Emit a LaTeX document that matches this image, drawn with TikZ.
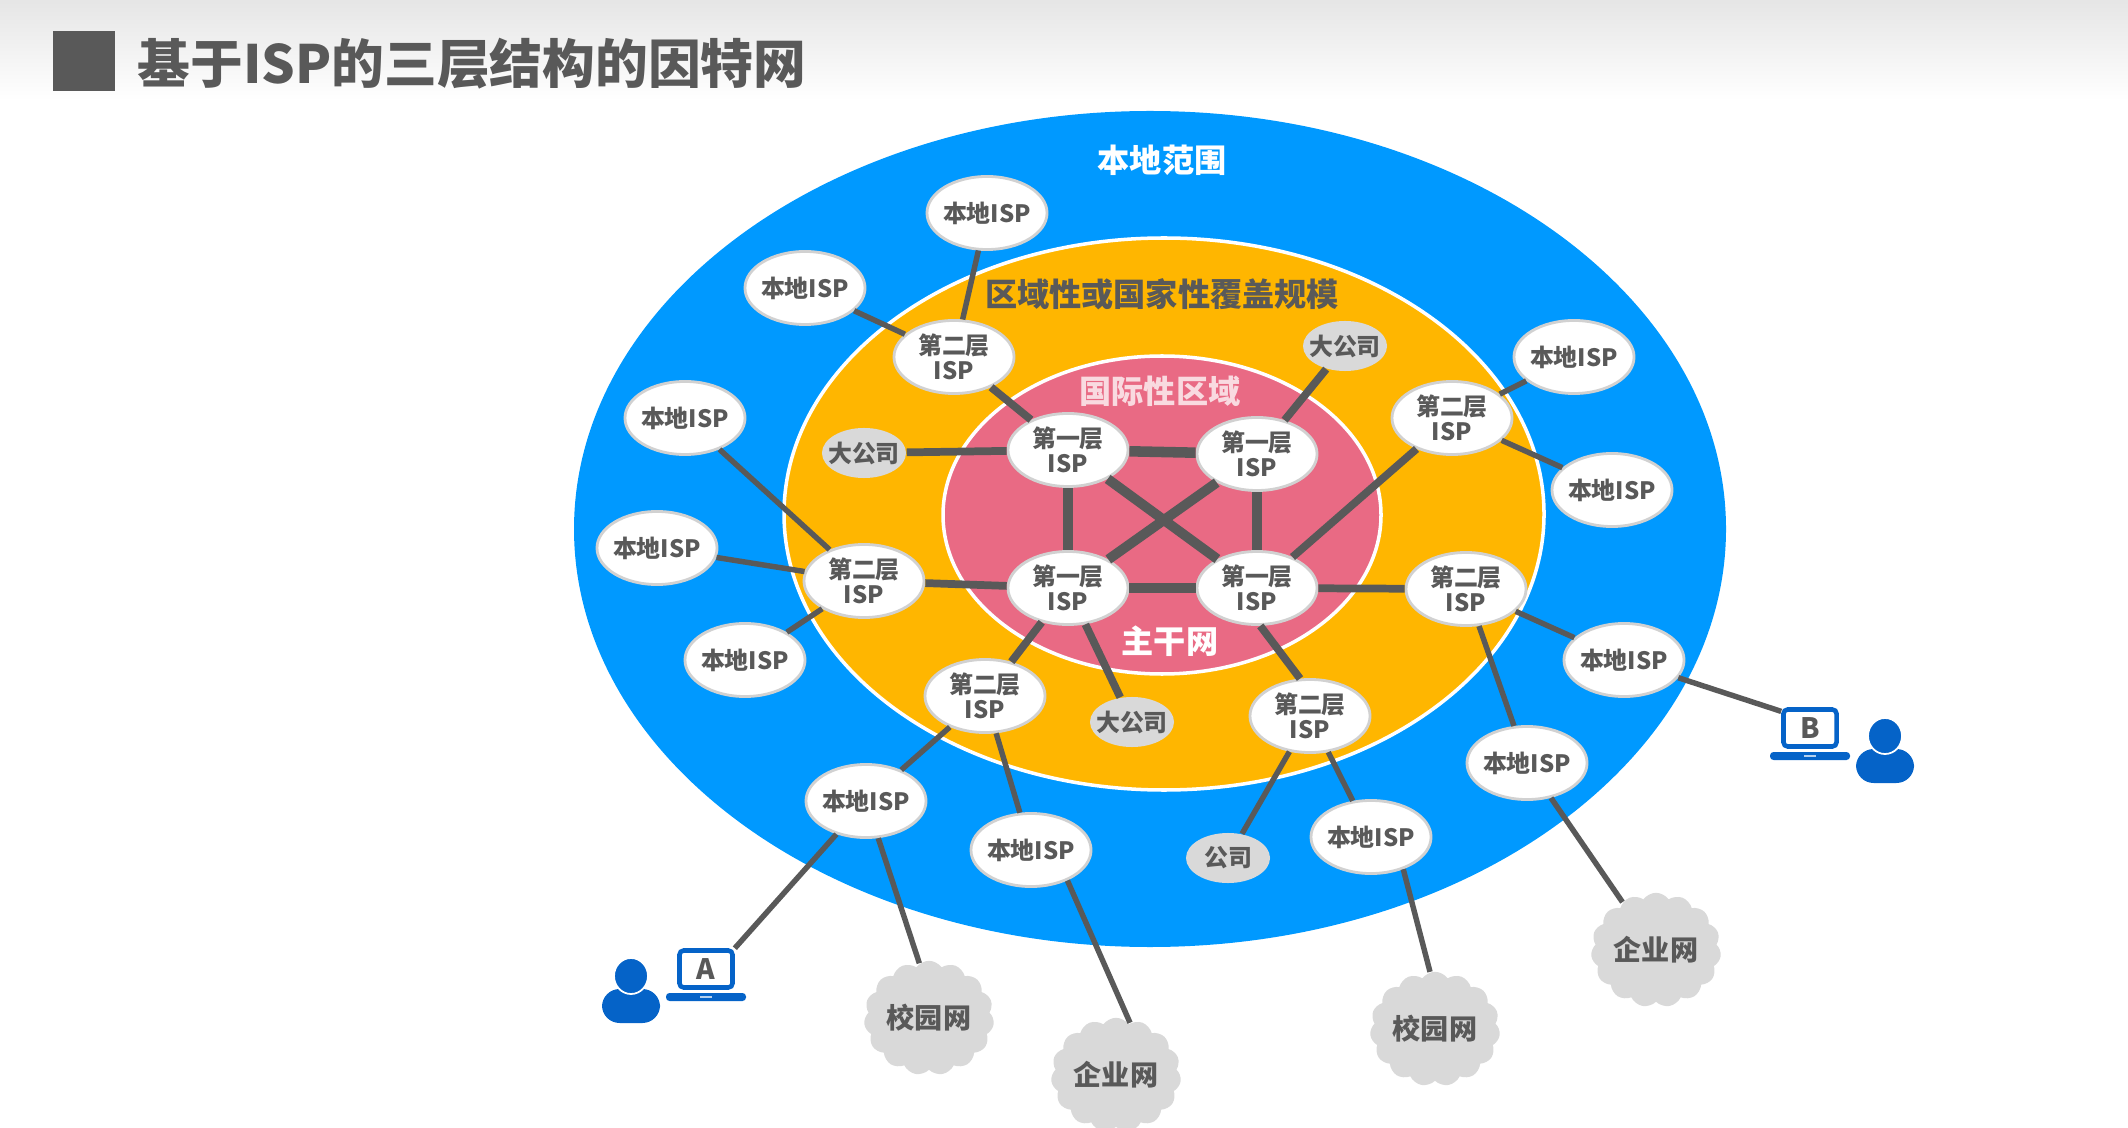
\documentclass[tikz,border=0pt]{standalone}
\usepackage{fontspec}
\setmainfont{Noto Sans CJK SC}
\usetikzlibrary{calc, shapes.geometric, shapes.symbols}
\definecolor{scopeBlue}{HTML}{0099FF}
\definecolor{scopeOrange}{HTML}{FFB600}
\definecolor{scopePink}{HTML}{E96A84}
\definecolor{inkGray}{HTML}{595959}
\definecolor{puffGray}{HTML}{D9D9D9}
\definecolor{userBlue}{HTML}{0563C8}
\tikzset{
    ispNode/.style={ellipse, draw=black!18, fill=white, line width=0.8pt, inner sep=0pt, inner xsep=-0.017cm, minimum width=1.2cm, minimum height=0.73cm, align=center, text=inkGray, font=\fontsize{6.8}{7.2}\selectfont\bfseries},
    firmNode/.style={ellipse, fill=puffGray, inner sep=0pt, inner xsep=-0.066cm, minimum width=0.84cm, minimum height=0.5cm, text=inkGray, font=\fontsize{6.8}{7.2}\selectfont\bfseries},
    cloudNode/.style={cloud, cloud puffs=15, cloud puff arc=110, aspect=1.15, fill=puffGray, inner sep=0pt, minimum width=1.3cm, minimum height=1.14cm, text=inkGray, font=\fontsize{8}{8.4}\selectfont\bfseries},
    screenNode/.style={rectangle, rounded corners=1.2pt, draw=userBlue, fill=white, line width=1.3pt, inner sep=0pt, minimum width=0.53cm, minimum height=0.37cm, text=inkGray, font=\fontsize{8}{8}\selectfont\bfseries},
    scopeLabel/.style={font=\fontsize{9.15}{10}\selectfont\bfseries},
    ispLine/.style={line width=1.55pt, draw=inkGray},
    coreLine/.style={line width=3pt, draw=inkGray},
    crossLine/.style={line width=2.8pt, draw=inkGray},
    trunkLine/.style={line width=2.2pt, draw=inkGray}
}
\begin{document}
\begin{tikzpicture}[x=0.01cm, y=-0.01cm]

    % --- Laptop and User Macros ---
    \def\drawLaptop#1{
        \fill[userBlue, rounded corners=1pt] ($(#1)+(-40,24)$) rectangle ($(#1)+(40,32)$);
        \fill[white!70!userBlue] ($(#1)+(-6,27)$) rectangle ($(#1)+(6,29)$);
    }
    \def\drawUser#1{
        \fill[userBlue, rounded corners=5pt] ($(#1)+(-29,47)$) -- ($(#1)+(-29,13)$) -- ($(#1)+(29,13)$) -- ($(#1)+(29,47)$) -- cycle;
        \fill[userBlue, draw=white, line width=0.5pt] (#1) ellipse (17 and 18);
    }

    % --- Page and Heading ---
    \useasboundingbox (0,0) rectangle (2128,1128);
    \shade[top color=black!10, bottom color=white] (0,0) rectangle (2128,100);
    \fill[inkGray] (53,31) rectangle (115,91);
    \node[anchor=west, inner sep=0pt, text=inkGray, font=\fontsize{15}{16}\selectfont\bfseries] (heading) at (137,64) {基于ISP的三层结构的因特网};

    % --- Scope Ellipses ---
    \fill[scopeBlue] (1150,529) ellipse (576 and 418);
    \draw[white, line width=1pt, fill=scopeOrange] (1164,514) ellipse (380 and 276);
    \draw[white, line width=1pt, fill=scopePink] (1162,515) ellipse (219 and 159);

    % --- Scope Labels ---
    \node[scopeLabel, text=white] (localScope) at (1162,160) {本地范围};
    \node[scopeLabel, text=inkGray] (regionScope) at (1162,294) {区域性或国家性覆盖规模};
    \node[scopeLabel, text=white!75!scopePink] (worldScope) at (1160,391) {国际性区域};
    \node[scopeLabel, text=white] (coreScope) at (1170,641) {主干网};

    % --- Tier 1 Nodes ---
    \node[ispNode] (A1) at (1068,450) {第一层\\ISP};
    \node[ispNode] (A2) at (1257,454) {第一层\\ISP};
    \node[ispNode] (A3) at (1068,588) {第一层\\ISP};
    \node[ispNode] (A4) at (1257,588) {第一层\\ISP};

    % --- Tier 2 Nodes ---
    \node[ispNode] (B1) at (954,357) {第二层\\ISP};
    \node[ispNode] (B2) at (1452,418) {第二层\\ISP};
    \node[ispNode] (B3) at (864,581) {第二层\\ISP};
    \node[ispNode] (B4) at (1466,589) {第二层\\ISP};
    \node[ispNode] (B5) at (985,696) {第二层\\ISP};
    \node[ispNode] (B6) at (1310,716) {第二层\\ISP};

    % --- Local ISP Nodes ---
    \node[ispNode] (L1) at (987,213) {本地ISP};
    \node[ispNode] (L2) at (805,288) {本地ISP};
    \node[ispNode] (L3) at (685,418) {本地ISP};
    \node[ispNode] (L4) at (657,548) {本地ISP};
    \node[ispNode] (L5) at (745,660) {本地ISP};
    \node[ispNode] (L6) at (866,801) {本地ISP};
    \node[ispNode] (L7) at (1031,850) {本地ISP};
    \node[ispNode] (L8) at (1371,837) {本地ISP};
    \node[ispNode] (L9) at (1527,763) {本地ISP};
    \node[ispNode] (L10) at (1624,660) {本地ISP};
    \node[ispNode] (L11) at (1612,490) {本地ISP};
    \node[ispNode] (L12) at (1574,357) {本地ISP};

    % --- Company Nodes ---
    \node[firmNode] (F1) at (864,453) {大公司};
    \node[firmNode] (F2) at (1345,346) {大公司};
    \node[firmNode] (F3) at (1132,722) {大公司};
    \node[firmNode] (F4) at (1228,858) {公司};

    % --- Cloud Nodes ---
    \node[cloudNode] (C1) at (929,1018) {校园网};
    \node[cloudNode] (C2) at (1116,1075) {企业网};
    \node[cloudNode] (C3) at (1435,1029) {校园网};
    \node[cloudNode] (C4) at (1656,950) {企业网};

    % --- Hosts ---
    \node[screenNode] (hostA) at (706,969) {A};
    \node[screenNode] (hostB) at (1810,728) {B};
    \coordinate (userA) at (631,976);
    \coordinate (userB) at (1885,736);
    \drawLaptop{hostA}
    \drawLaptop{hostB}
    \drawUser{userA}
    \drawUser{userB}

    % --- Backbone Links ---
    \foreach \srcNode/\dstNode in {A1/A2, A3/A4, A1/A3, A2/A4} {
        \draw[coreLine] (\srcNode) -- (\dstNode);
    }
    \foreach \srcNode/\dstNode in {A1/A4, A2/A3} {
        \draw[crossLine] (\srcNode) -- (\dstNode);
    }

    % --- Links Leaving the Backbone ---
    \foreach \srcNode/\dstNode in {B1/A1, F1/A1, F2/A2, B2/A4, B3/A3, A4/B4, A3/B5, A3/F3, A4.-85/B6.105} {
        \draw[trunkLine] (\srcNode) -- (\dstNode);
    }

    % --- Access Links ---
    \foreach \srcNode/\dstNode in {L1/B1, L2/B1, L12/B2, L11/B2, L3/B3, L4/B3, L5/B3, L10/B4, L9/B4,
                       L6/B5, L7/B5, L8/B6, F4/B6, L6/hostA.north east, L6/C1.100, L7.-40/C2.75, L8.-45/C3.95, L9/C4.125, L10/hostB.150} {
        \draw[ispLine] (\srcNode) -- (\dstNode);
    }

\end{tikzpicture}
\end{document}
